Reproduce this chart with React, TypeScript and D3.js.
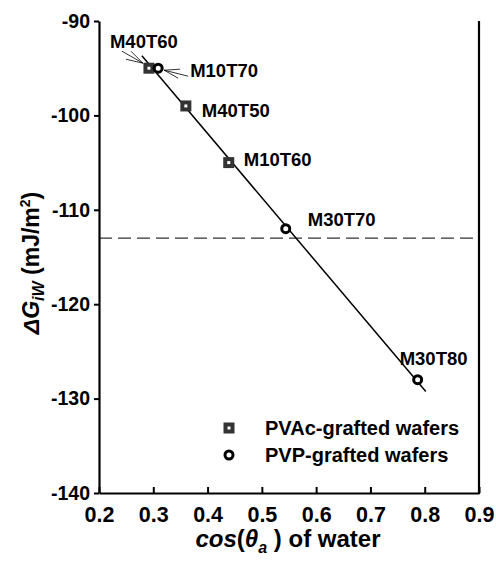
import { useEffect, useRef } from 'react';
import * as d3 from 'd3';

interface Sample {
  name: string;
  kind: 'PVAc' | 'PVP';
  cos: number;
  dG: number;
}

const sampleNames = ['M40T60', 'M10T70', 'M40T50', 'M10T60', 'M30T70', 'M30T80'];
const sampleKinds: Sample['kind'][] = ['PVAc', 'PVP', 'PVAc', 'PVAc', 'PVP', 'PVP'];
const cosValues = [0.292, 0.309, 0.36, 0.439, 0.544, 0.787];
const dGValues = [-95, -95, -99, -105, -112, -128];

const xTicks = [0.2, 0.3, 0.4, 0.5, 0.6, 0.7, 0.8, 0.9];
const yTicks = [-140, -130, -120, -110, -100, -90];
const referenceLevel = -113;
const fitRange = [0.279, 0.802];

const legendItems = [
  { kind: 'PVAc', label: 'PVAc-grafted wafers' },
  { kind: 'PVP', label: 'PVP-grafted wafers' },
];

// label placement relative to the marker (px)
const labelOffset: Record<string, [number, number]> = {
  M40T60: [-39, -20],
  M10T70: [32, 9],
  M40T50: [16, 11],
  M10T60: [15, 3],
  M30T70: [22, -3],
  M30T80: [-18, -15],
};

const samples: Sample[] = sampleNames.map((name, i) => ({
  name,
  kind: sampleKinds[i],
  cos: cosValues[i],
  dG: dGValues[i],
}));

const FONT = '"Liberation Sans", Arial, Helvetica, sans-serif';

export default function App() {
  const svgRef = useRef<SVGSVGElement>(null);

  useEffect(() => {
    if (!svgRef.current) return;
    const width = 496;
    const height = 566;
    const left = 99, right = 479, top = 21, bottom = 493;

    const svg = d3.select(svgRef.current)
      .attr('width', width)
      .attr('height', height)
      .attr('viewBox', `0 0 ${width} ${height}`)
      .style('font-family', FONT);
    svg.selectAll('*').remove();

    const x = d3.scaleLinear().domain([0.2, 0.9]).range([left, right]);
    const y = d3.scaleLinear().domain([-140, -90]).range([bottom, top]);

    // reference dashed line
    svg.append('line')
      .attr('x1', left).attr('x2', right)
      .attr('y1', y(referenceLevel)).attr('y2', y(referenceLevel))
      .attr('stroke', '#333').attr('stroke-width', 1.2)
      .attr('stroke-dasharray', '13,6');

    // least-squares fit
    const mx = d3.mean(samples, d => d.cos)!;
    const my = d3.mean(samples, d => d.dG)!;
    const sxy = d3.sum(samples, d => (d.cos - mx) * (d.dG - my));
    const sxx = d3.sum(samples, d => (d.cos - mx) ** 2);
    const slope = sxy / sxx;
    const icpt = my - slope * mx;
    svg.append('line')
      .attr('x1', x(fitRange[0])).attr('y1', y(icpt + slope * fitRange[0]))
      .attr('x2', x(fitRange[1])).attr('y2', y(icpt + slope * fitRange[1]))
      .attr('stroke', '#000').attr('stroke-width', 1.5);

    // axes
    const xAxis = svg.append('g').attr('transform', `translate(0,${bottom})`)
      .call(d3.axisBottom(x).tickValues(xTicks).tickSizeInner(-6).tickSizeOuter(0).tickPadding(14)
        .tickFormat(d => (+d).toFixed(1)));
    xAxis.select('.domain').attr('stroke-width', 2.2);
    xAxis.selectAll('.tick line').attr('stroke-width', 2);
    xAxis.selectAll('.tick text')
      .style('font-family', FONT).style('font-size', '21.5px').style('font-weight', 'bold').attr('fill', '#000');

    const yAxis = svg.append('g').attr('transform', `translate(${left},0)`)
      .call(d3.axisLeft(y).tickValues(yTicks).tickSizeInner(5).tickSizeOuter(0).tickPadding(4)
        .tickFormat(d => String(d)));
    yAxis.select('.domain').attr('stroke-width', 2.2);
    yAxis.selectAll('.tick line').attr('stroke-width', 2);
    yAxis.selectAll('.tick text')
      .style('font-family', FONT).style('font-size', '19.5px').style('font-weight', 'bold').attr('fill', '#000');

    // right frame
    svg.append('line')
      .attr('x1', right).attr('x2', right).attr('y1', top).attr('y2', bottom + 1)
      .attr('stroke', '#000').attr('stroke-width', 2.2);

    const drawMarker = (g: d3.Selection<SVGGElement, unknown, null, undefined>, kind: string) => {
      if (kind === 'PVAc') {
        g.append('rect').attr('x', -3.5).attr('y', -3.5).attr('width', 7).attr('height', 7)
          .attr('fill', '#fff').attr('stroke', '#333').attr('stroke-width', 4);
      } else {
        g.append('circle').attr('r', 4).attr('fill', '#fff').attr('stroke', '#000').attr('stroke-width', 3);
      }
    };

    // leader lines
    const leaders: Record<string, [number, number, number, number][]> = {
      M40T60: [[-27, -17, -6, -5], [-18, -17, -6, -5], [-23, -9, -6, -5]],
      M10T70: [[6, 2, 22, 1], [6, 2, 30, 8], [6, 2, 20, 10]],
    };
    samples.forEach(d => {
      (leaders[d.name] || []).forEach(([x1, y1, x2, y2]) => {
        svg.append('line')
          .attr('x1', x(d.cos) + x1).attr('y1', y(d.dG) + y1)
          .attr('x2', x(d.cos) + x2).attr('y2', y(d.dG) + y2)
          .attr('stroke', '#000').attr('stroke-width', 0.8);
      });
    });

    samples.forEach(d => {
      const g = svg.append('g').attr('transform', `translate(${x(d.cos)},${y(d.dG)})`);
      drawMarker(g, d.kind);
    });

    samples.forEach(d => {
      const [dx, dy] = labelOffset[d.name];
      svg.append('text')
        .attr('x', x(d.cos) + dx).attr('y', y(d.dG) + dy)
        .style('font-size', '18.5px').style('font-weight', 'bold').attr('fill', '#000')
        .text(d.name);
    });

    // legend
    legendItems.forEach((item, i) => {
      const ly = 428 + i * 27;
      const g = svg.append('g').attr('transform', `translate(229,${ly})`);
      drawMarker(g, item.kind);
      svg.append('text').attr('x', 265).attr('y', ly + 7)
        .style('font-size', '20px').style('font-weight', 'bold').attr('fill', '#000')
        .text(item.label);
    });

    // x title
    const xt = svg.append('text').attr('x', 288).attr('y', 547)
      .attr('text-anchor', 'middle').style('font-size', '24px').style('font-weight', 'bold').attr('fill', '#000');
    xt.append('tspan').style('font-style', 'italic').text('cos');
    xt.append('tspan').text('(');
    xt.append('tspan').style('font-style', 'italic').text('θ');
    xt.append('tspan').style('font-style', 'italic').style('font-size', '16px').attr('dy', 6).text('a');
    xt.append('tspan').attr('dy', -6).text(' ) of water');

    // y title
    const yt = svg.append('text')
      .attr('transform', `translate(39,263) rotate(-90)`)
      .attr('text-anchor', 'middle').style('font-size', '23px').style('font-weight', 'bold').attr('fill', '#000');
    yt.append('tspan').style('font-style', 'italic').text('ΔG');
    yt.append('tspan').style('font-style', 'italic').style('font-size', '16px').attr('dy', 5).text('iW');
    yt.append('tspan').attr('dy', -5).text(' (mJ/m');
    yt.append('tspan').style('font-size', '14px').attr('dy', -9).text('2');
    yt.append('tspan').attr('dy', 9).text(')');
  }, []);

  return (
    <div style={{ position: 'absolute', left: 0, top: 0, width: 496, height: 566, background: '#fff' }}>
      <svg ref={svgRef} style={{ display: 'block' }} />
    </div>
  );
}
